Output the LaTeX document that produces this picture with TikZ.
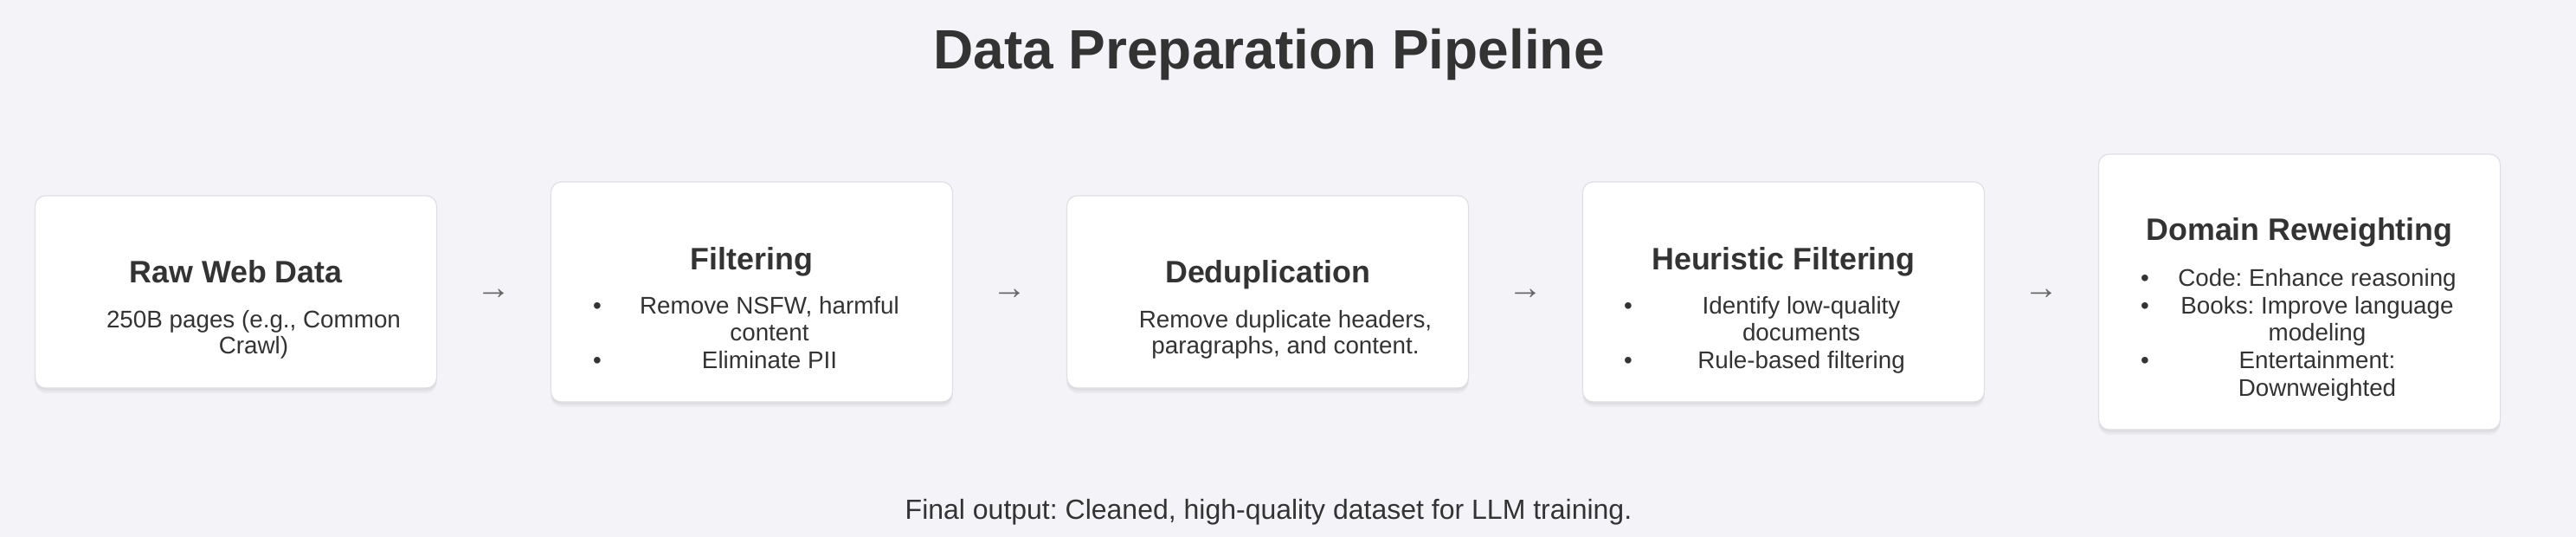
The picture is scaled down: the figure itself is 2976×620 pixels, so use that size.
\documentclass[tikz,border=0pt]{standalone}
\usepackage{fontspec}
\setmainfont{Liberation Sans}
\usetikzlibrary{shadows,calc}

\definecolor{pagebg}{HTML}{F4F4F8}
\definecolor{ink}{HTML}{333333}
\definecolor{cardline}{HTML}{E0E0E4}
\definecolor{arrowgray}{HTML}{666666}

\tikzset{
    softshadow/.style={drop shadow={shadow xshift=0pt, shadow yshift=-#1, fill=black, opacity=0.035}},
    card/.style={draw=cardline, line width=0.6pt, fill=white, rounded corners=6pt,
        minimum width=232pt, inner sep=0pt,
        softshadow=0.8pt, softshadow=1.8pt, softshadow=3pt},
    cardtitle/.style={font=\fontsize{17.9}{21}\selectfont\bfseries, text=ink, anchor=base, inner sep=0pt},
    cardtext/.style={font=\fontsize{13.9}{16}\selectfont, text=ink, anchor=base, inner sep=0pt},
    flowarrow/.style={font=\fontsize{20}{24}\selectfont, text=arrowgray, inner sep=0pt, yshift=-1.5pt}
}

\begin{document}
\frenchspacing
\begin{tikzpicture}[x=0.5pt, y=-0.5pt]

        % Page
        \path[fill=pagebg] (0,0) rectangle (2976,620);
        \node[font=\fontsize{32}{38}\selectfont\bfseries, text=ink, anchor=base, inner sep=0pt] (title) at (1466,80) {Data Preparation Pipeline};

        % Cards
        \foreach \name/\cx/\boxh in {raw/272.5/111pt, filt/868.5/127pt, dedup/1464.5/111pt, heur/2060.5/127pt, domain/2656.5/159pt}{
            \node[card, minimum height=\boxh] (\name) at (\cx, 337) {};
        }

        % Arrows between cards
        \foreach \a/\b in {raw/filt, filt/dedup, dedup/heur, heur/domain}{
            \node[flowarrow] (\a-\b) at ($(\a.east)!0.5!(\b.west)$) {→};
        }

        % Raw Web Data
        \node[cardtitle] (raw-title) at (272.5, 327) {Raw Web Data};
        \node[cardtext] at (293, 378) {250B pages (e.g., Common};
        \node[cardtext] at (293, 408) {Crawl)};

        % Filtering
        \node[cardtitle] (filt-title) at (868.5, 312) {Filtering};
        \node[cardtext] at (690, 362) {•};
        \node[cardtext] at (889, 362) {Remove NSFW, harmful};
        \node[cardtext] at (889, 393) {content};
        \node[cardtext] at (690, 425) {•};
        \node[cardtext] at (889, 425) {Eliminate PII};

        % Deduplication
        \node[cardtitle] (dedup-title) at (1464.5, 327) {Deduplication};
        \node[cardtext] at (1485, 378) {Remove duplicate headers,};
        \node[cardtext] at (1485, 408) {paragraphs, and content.};

        % Heuristic Filtering
        \node[cardtitle] (heur-title) at (2060.5, 312) {Heuristic Filtering};
        \node[cardtext] at (1881, 362) {•};
        \node[cardtext] at (2081, 362) {Identify low-quality};
        \node[cardtext] at (2081, 393) {documents};
        \node[cardtext] at (1881, 425) {•};
        \node[cardtext] at (2081, 425) {Rule-based filtering};

        % Domain Reweighting
        \node[cardtitle] (domain-title) at (2656.5, 278) {Domain Reweighting};
        \node[cardtext] at (2478, 330) {•};
        \node[cardtext] at (2677, 330) {Code: Enhance reasoning};
        \node[cardtext] at (2478, 362) {•};
        \node[cardtext] at (2677, 362) {Books: Improve language};
        \node[cardtext] at (2677, 393) {modeling};
        \node[cardtext] at (2478, 425) {•};
        \node[cardtext] at (2677, 425) {Entertainment:};
        \node[cardtext] at (2677, 457) {Downweighted};

        % Footer
        \node[font=\fontsize{16}{19}\selectfont, text=ink, anchor=base, inner sep=0pt] (footer) at (1465.5, 599) {Final output: Cleaned, high-quality dataset for LLM training.};

    \end{tikzpicture}
\end{document}
